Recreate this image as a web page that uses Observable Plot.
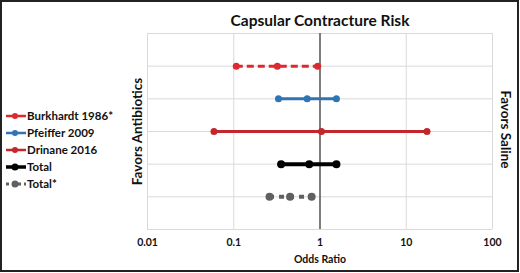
<!DOCTYPE html>
<html>
<head>
<meta charset="utf-8">
<script src="https://cdn.jsdelivr.net/npm/d3@7"></script>
<script src="https://cdn.jsdelivr.net/npm/@observablehq/plot@0.6"></script>
<style>
  html, body { margin: 0; padding: 0; background: #fff; }
  #wrap { position: relative; width: 520px; height: 273px; font-family: Lato, "Open Sans", sans-serif; }
  #border { position: absolute; left: 0; top: 0; width: 519px; height: 272px; box-sizing: border-box; border: 2px solid #222; pointer-events: none; }
  #legend { position: absolute; left: 5px; top: 107px; }
  .item { display: flex; align-items: center; height: 17px; font-weight: bold; font-size: 11.5px; color: #111; }
  .item svg { margin-right: 0px; }
</style>
</head>
<body>
<div id="wrap">
  <div id="chart"></div>
  <div id="legend"></div>
  <div id="border"></div>
</div>
<script>
const studies = ["Burkhardt 1986*", "Pfeiffer 2009", "Drinane 2016", "Total", "Total*"];
const rowPos = [5, 4, 3, 2, 1];
const lower = [0.107, 0.33, 0.059, 0.354, 0.26];
const estimate = [0.32, 0.71, 1.04, 0.75, 0.45];
const upper = [0.94, 1.55, 17.4, 1.55, 0.80];
const colors = ["#DC2A30", "#2E75B6", "#C2272D", "#000000", "#606060"];
const dashes = ["7,4", null, null, null, "5,5"];
const legendDashes = [null, null, null, null, "3,3"];
const widths = [3, 3, 3, 4, 4];
const legendWidths = [2.5, 2.5, 2.5, 3.5, 3];
const radii = [3.5, 3.5, 3.5, 4, 4];
const xTicks = [0.01, 0.1, 1, 10, 100];
const rowLines = [0, 1, 2, 3, 4, 5, 6];

const data = studies.map((s, i) => ({
  study: s, y: rowPos[i], lo: lower[i], est: estimate[i], hi: upper[i],
  color: colors[i], dash: dashes[i], w: widths[i], r: radii[i],
  ldash: legendDashes[i], lw: legendWidths[i]
}));
const points = data.flatMap(d => [d.lo, d.est, d.hi].map(x => ({...d, x})));

const marks = [
  Plot.ruleY(rowLines, {y: d => d, stroke: "#d9d9d9", strokeWidth: 1}),
  Plot.ruleX(xTicks, {x: d => d, stroke: "#d9d9d9", strokeWidth: 1}),
  Plot.ruleX([1], {x: d => d, stroke: "#333", strokeWidth: 1.2}),
];
data.forEach(d => {
  marks.push(Plot.ruleY([d], {y: "y", x1: "lo", x2: "hi", stroke: d.color, strokeWidth: d.w, strokeDasharray: d.dash ?? undefined}));
  marks.push(Plot.dot(points.filter(p => p.study === d.study), {x: "x", y: "y", r: d.r, fill: d.color, stroke: "none"}));
});
marks.push(
  Plot.axisX({ticks: xTicks, tickFormat: d => String(d), tickSize: 0, tickPadding: 9, fontSize: 10.5, fontWeight: "bold", fill: "#111",
    label: "Odds Ratio", labelAnchor: "center", labelArrow: "none", labelOffset: 33}),
  Plot.text(["Capsular Contracture Risk"], {frameAnchor: "top", dy: -19, fontSize: 15.5, fontWeight: "bold", fill: "#111"}),
  Plot.text(["Favors Antibiotics"], {frameAnchor: "left", textAnchor: "middle", dx: -10, rotate: -90, fontSize: 13.5, fontWeight: "bold", fill: "#111"}),
  Plot.text(["Favors Saline"], {frameAnchor: "right", textAnchor: "middle", dx: 13, dy: -2, rotate: 90, fontSize: 13.5, fontWeight: "bold", fill: "#111"})
);

const chart = Plot.plot({
  width: 520, height: 273,
  marginLeft: 147, marginRight: 28, marginTop: 33, marginBottom: 44,
  style: {fontFamily: "Lato, 'Open Sans', sans-serif", background: "white", overflow: "visible"},
  x: {type: "log", domain: [0.01, 100]},
  y: {domain: [0, 6], axis: null},
  marks
});
document.getElementById("chart").append(chart);

// legend
const legend = d3.select("#legend");
data.forEach(d => {
  const item = legend.append("div").attr("class", "item");
  const sw = item.append("svg").attr("width", 22).attr("height", 10);
  sw.append("line").attr("x1", 1).attr("x2", 21).attr("y1", 5).attr("y2", 5)
    .attr("stroke", d.color).attr("stroke-width", d.lw)
    .attr("stroke-dasharray", d.ldash);
  sw.append("circle").attr("cx", 10).attr("cy", 5).attr("r", d.r - 0.5).attr("fill", d.color);
  item.append("span").text(d.study);
});
</script>
</body>
</html>
